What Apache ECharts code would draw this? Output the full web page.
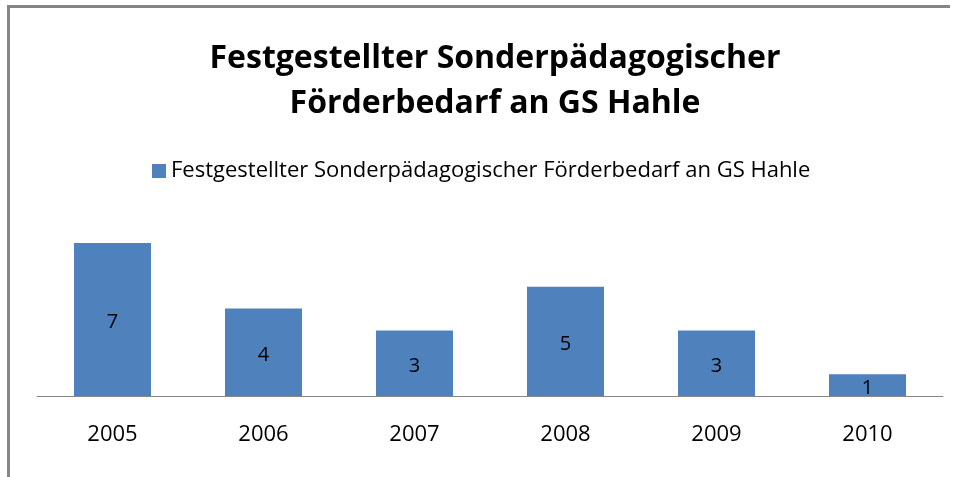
<!DOCTYPE html>
<html>
<head>
<meta charset="utf-8">
<script src="https://cdn.jsdelivr.net/npm/echarts@6/dist/echarts.min.js"></script>
<style>
  html, body { margin: 0; padding: 0; background: #fff; }
  #chart { width: 958px; height: 477px; }
</style>
</head>
<body>
<div id="chart"></div>
<script>
// Daten
const years = ['2005', '2006', '2007', '2008', '2009', '2010']
const counts = [7, 4, 3, 5, 3, 1]
const seriesName = 'Festgestellter Sonderpädagogischer Förderbedarf an GS Hahle'

const chart = echarts.init(document.getElementById('chart'))
const option = {
  animation: false,
  textStyle: { fontFamily: 'Open Sans' },
  title: {
    text: 'Festgestellter Sonderpädagogischer\nFörderbedarf an GS Hahle',
    left: 490,
    textAlign: 'center',
    top: 31,
    textStyle: {
      color: '#000',
      fontSize: 32,
      fontWeight: 'bold',
      lineHeight: 45,
      fontFamily: 'Open Sans'
    }
  },
  legend: {
    top: 155,
    left: 147,
    icon: 'rect',
    itemWidth: 14,
    itemHeight: 14,
    itemGap: 6,
    textStyle: { color: '#000', fontSize: 22, fontFamily: 'Open Sans' },
    data: [seriesName]
  },
  color: ['#4F81BD'],
  grid: {
    left: 37,
    right: 15,
    top: 221,
    bottom: 81
  },
  xAxis: {
    type: 'category',
    data: years,
    axisLine: { lineStyle: { color: '#868686', width: 1 } },
    axisTick: { show: false },
    axisLabel: { color: '#000', fontSize: 22, margin: 28 }
  },
  yAxis: {
    type: 'value',
    min: 0,
    max: 8,
    show: false,
    splitLine: { show: false }
  },
  series: [
    {
      name: seriesName,
      type: 'bar',
      data: counts,
      barWidth: '51%',
      label: {
        show: true,
        position: 'inside',
        offset: [0, 3],
        color: '#000',
        fontSize: 20
      }
    }
  ],
  graphic: [
    {
      type: 'polyline',
      shape: { points: [[8.5, 477], [8.5, 6.5], [950, 6.5]] },
      style: { stroke: '#868686', lineWidth: 3, fill: null }
    }
  ]
}
chart.setOption(option)
</script>
</body>
</html>
